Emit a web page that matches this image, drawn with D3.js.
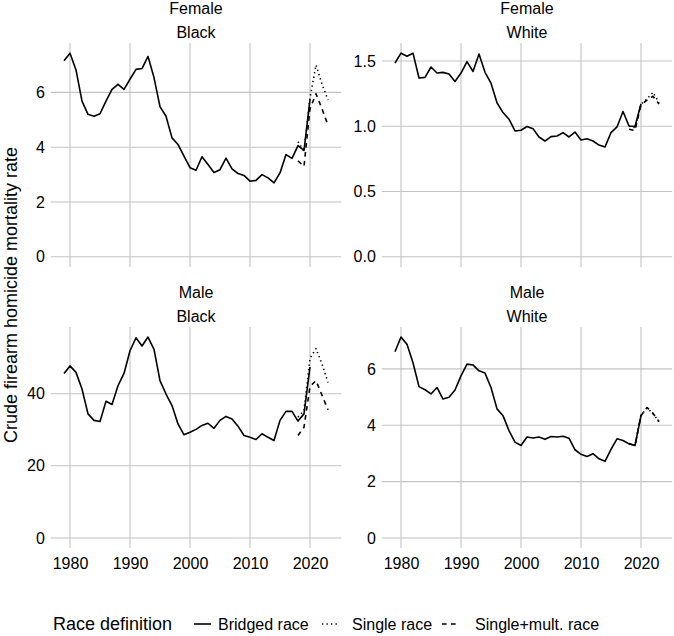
<!DOCTYPE html>
<html><head><meta charset="utf-8">
<script src="https://cdn.jsdelivr.net/npm/d3@7"></script>
<style>
html,body{margin:0;padding:0;background:#fff;}
text{font-family:"Liberation Sans",Arial,Helvetica,sans-serif;fill:#000;}
</style></head>
<body>
<svg id="chart" width="674" height="636"></svg>
<script>
// ---------- data ----------
const bridgedYears = [1979,1980,1981,1982,1983,1984,1985,1986,1987,1988,1989,1990,1991,1992,1993,1994,1995,1996,1997,1998,1999,2000,2001,2002,2003,2004,2005,2006,2007,2008,2009,2010,2011,2012,2013,2014,2015,2016,2017,2018,2019,2020];
const singleYears = [2018,2019,2020,2021,2022,2023];
const xTicks = [1980,1990,2000,2010,2020];
const raceDefs = ["Bridged race","Single race","Single+mult. race"];

const femaleBlackBridged = [7.15,7.43,6.82,5.68,5.2,5.13,5.22,5.68,6.11,6.29,6.11,6.48,6.84,6.87,7.31,6.54,5.48,5.13,4.34,4.1,3.67,3.25,3.16,3.65,3.37,3.08,3.18,3.6,3.21,3.04,2.97,2.76,2.79,3.0,2.88,2.7,3.06,3.73,3.59,4.06,3.88,5.74];
const femaleBlackSingle = [4.2,3.85,5.8,7.0,6.3,5.72];
const femaleBlackMulti  = [3.5,3.3,5.4,5.95,5.4,4.8];

const femaleWhiteBridged = [1.485,1.56,1.536,1.56,1.37,1.375,1.454,1.408,1.413,1.4,1.343,1.408,1.495,1.42,1.554,1.413,1.33,1.18,1.105,1.054,0.964,0.97,0.998,0.982,0.918,0.887,0.921,0.926,0.951,0.918,0.956,0.895,0.905,0.887,0.856,0.841,0.951,0.995,1.113,1.002,0.998,1.172];
const femaleWhiteSingle = [1.0,0.99,1.17,1.21,1.26,1.18];
const femaleWhiteMulti  = [0.977,0.968,1.165,1.2,1.23,1.17];

const maleBlackBridged = [45.6,47.7,45.9,41.3,34.4,32.6,32.3,37.9,37.0,42.2,45.6,51.9,55.5,53.2,55.7,52.3,43.6,39.9,36.7,31.6,28.6,29.3,30.1,31.2,31.8,30.4,32.6,33.7,33.0,31.0,28.4,27.9,27.3,28.9,27.9,27.0,32.6,35.1,35.1,32.4,34.4,47.4];
const maleBlackSingle = [33.5,35.3,49.8,52.5,48.2,43.1];
const maleBlackMulti  = [28.4,30.7,42.0,43.6,39.6,35.5];

const maleWhiteBridged = [6.61,7.13,6.87,6.22,5.37,5.26,5.11,5.34,4.93,4.99,5.25,5.75,6.17,6.14,5.93,5.85,5.34,4.58,4.34,3.81,3.4,3.28,3.58,3.55,3.58,3.5,3.6,3.58,3.61,3.54,3.13,2.97,2.89,2.99,2.81,2.72,3.14,3.52,3.46,3.34,3.28,4.34];
const maleWhiteSingle = [3.35,3.29,4.35,4.61,4.42,4.12];
const maleWhiteMulti  = [3.34,3.28,4.34,4.63,4.42,4.13];

const panels = [
  {sex:"Female", race:"Black", bridged:femaleBlackBridged, single:femaleBlackSingle, multi:femaleBlackMulti, yTicks:[0,2,4,6], fmt:d3.format("d")},
  {sex:"Female", race:"White", bridged:femaleWhiteBridged, single:femaleWhiteSingle, multi:femaleWhiteMulti, yTicks:[0,0.5,1,1.5], fmt:d3.format(".1f")},
  {sex:"Male", race:"Black", bridged:maleBlackBridged, single:maleBlackSingle, multi:maleBlackMulti, yTicks:[0,20,40], fmt:d3.format("d")},
  {sex:"Male", race:"White", bridged:maleWhiteBridged, single:maleWhiteSingle, multi:maleWhiteMulti, yTicks:[0,2,4,6], fmt:d3.format("d")}
];

// ---------- layout ----------
const colLeft = [50.8, 381.8], panelW = 290.4;
const rowTop = [43, 327], panelH = [224, 221];
const grid = "#c4c4c4";
const dashes = {"Bridged race":null, "Single race":"1.3 3.2", "Single+mult. race":"4.6 4.4"};

const svg = d3.select("#chart");
const allYears = bridgedYears.concat(singleYears);
const xmin = d3.min(allYears), xmax = d3.max(allYears), xpad = (xmax - xmin) * 0.05;

panels.forEach((p, i) => {
  const col = i % 2, row = Math.floor(i / 2);
  const left = colLeft[col], top = rowTop[row], h = panelH[row];
  const g = svg.append("g").attr("transform", `translate(${left},${top})`);
  const x = d3.scaleLinear().domain([xmin - xpad, xmax + xpad]).range([0, panelW]);
  const ymax = d3.max(p.bridged.concat(p.single, p.multi));
  const y = d3.scaleLinear().domain([-0.05 * ymax, ymax * 1.05]).range([h, 0]);

  // grid
  g.selectAll(".vg").data(xTicks).join("line")
    .attr("x1", d => x(d)).attr("x2", d => x(d)).attr("y1", 0).attr("y2", h)
    .attr("stroke", grid).attr("stroke-width", 1.1);
  g.selectAll(".hg").data(p.yTicks).join("line")
    .attr("x1", 0).attr("x2", panelW).attr("y1", d => y(d)).attr("y2", d => y(d))
    .attr("stroke", grid).attr("stroke-width", 1.1);

  // y axis labels
  const ya = d3.axisLeft(y).tickValues(p.yTicks).tickFormat(p.fmt).tickSize(0).tickPadding(6);
  const yg = g.append("g").call(ya);
  yg.select(".domain").remove();
  yg.selectAll("text").attr("font-size", 16).attr("fill", "#000").style("font-family", "Liberation Sans, Arial, sans-serif");

  // x axis labels (bottom row only)
  if (row === 1) {
    const xa = d3.axisBottom(x).tickValues(xTicks).tickFormat(d3.format("d")).tickSize(0).tickPadding(10);
    const xg = g.append("g").attr("transform", `translate(0,${h})`).call(xa);
    xg.select(".domain").remove();
    xg.selectAll("text").attr("font-size", 16).attr("fill", "#000").style("font-family", "Liberation Sans, Arial, sans-serif");
  }

  // strips
  svg.append("text").attr("x", left + panelW / 2).attr("y", top - 35).attr("text-anchor", "middle")
    .attr("dominant-baseline", "central").attr("font-size", 16).text(p.sex);
  svg.append("text").attr("x", left + panelW / 2).attr("y", top - 11).attr("text-anchor", "middle")
    .attr("dominant-baseline", "central").attr("font-size", 16).text(p.race);

  // lines
  const line = d3.line().x(d => x(d[0])).y(d => y(d[1]));
  const series = [
    {name:"Bridged race", pts:d3.zip(bridgedYears, p.bridged)},
    {name:"Single race", pts:d3.zip(singleYears, p.single)},
    {name:"Single+mult. race", pts:d3.zip(singleYears, p.multi)}
  ];
  series.forEach(s => {
    g.append("path").attr("d", line(s.pts)).attr("fill", "none").attr("stroke", "#000")
      .attr("stroke-width", 1.6).attr("stroke-linejoin", "round")
      .attr("stroke-dasharray", dashes[s.name]);
  });
});

// y title
svg.append("text").attr("transform", "translate(11,295) rotate(-90)").attr("text-anchor", "middle")
  .attr("dominant-baseline", "central").attr("font-size", 18).text("Crude firearm homicide mortality rate");

// legend
const ly = 624;
svg.append("text").attr("x", 53).attr("y", ly).attr("dominant-baseline", "central").attr("font-size", 18).text("Race definition");
const keyX = [194, 322, 442], labX = [218, 352, 475];
raceDefs.forEach((r, i) => {
  svg.append("line").attr("x1", keyX[i]).attr("x2", keyX[i] + 17).attr("y1", ly).attr("y2", ly)
    .attr("stroke", "#000").attr("stroke-width", 1.6).attr("stroke-dasharray", dashes[r]);
  svg.append("text").attr("x", labX[i]).attr("y", ly).attr("dominant-baseline", "central").attr("font-size", 16).text(r);
});
</script>
</body></html>
